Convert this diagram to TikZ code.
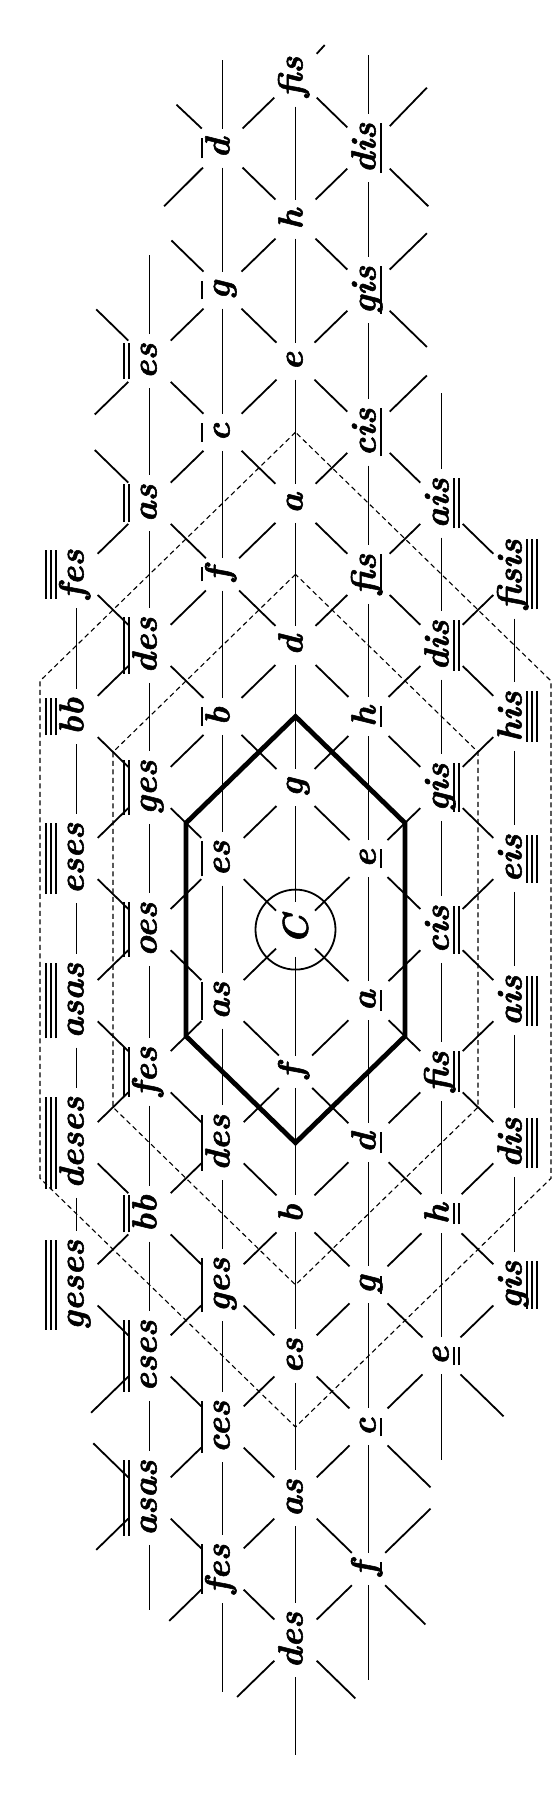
\documentclass[tikz,border=0pt]{standalone}
\usepackage{fontspec}
\newfontfamily\labfont{lmroman10-bolditalic.otf}[FakeBold=1.6]
\newlength\mkw
\newcommand\mkrule[1]{\rlap{\raisebox{#1}[0pt][0pt]{\rule{\mkw}{1.9pt}}}}
\newcommand\labtext[1]{\raisebox{0pt}[14pt][0pt]{#1}}
\newcommand\Ovi[1]{\settowidth\mkw{#1}\labtext{\mkrule{27pt}#1}}
\newcommand\Ovii[1]{\settowidth\mkw{#1}\labtext{\mkrule{27pt}\mkrule{32pt}#1}}
\newcommand\Oviii[1]{\settowidth\mkw{#1}\labtext{\mkrule{27pt}\mkrule{32pt}\mkrule{37pt}#1}}
\newcommand\Uvi[1]{\settowidth\mkw{#1}\labtext{\mkrule{-6.5pt}#1}}
\newcommand\Uvii[1]{\settowidth\mkw{#1}\labtext{\mkrule{-6.5pt}\mkrule{-11.5pt}#1}}
\newcommand\Uviii[1]{\settowidth\mkw{#1}\labtext{\mkrule{-6.5pt}\mkrule{-11.5pt}\mkrule{-16.5pt}#1}}
\newcommand\Nvi[1]{\labtext{#1}}
\tikzset{
  lab/.style={rectangle, rotate=90, inner xsep=9pt, inner ysep=14pt,
    font=\fontsize{35}{37}\labfont},
  cnode/.style={circle, rotate=90, minimum size=54pt, inner sep=0pt,
    font=\fontsize{36}{38}\labfont},
  lat/.style={line width=1.8pt},
  dsh/.style={line width=1.1pt, dash pattern=on 5pt off 3.5pt},
  thick hex/.style={line width=4.8pt, line join=miter}
}
\begin{document}
\begin{tikzpicture}
\fill[white] (0pt,0pt) rectangle (555pt,-1805pt);
\useasboundingbox (0pt,0pt) rectangle (555pt,-1805pt);
\begin{scope}[shift={(76.5pt,-77pt)}, x=73pt, y=-71.05pt]
% ---- labelled nodes ----
\foreach \r/\t in {7/fes,9/bb,11/eses,13/asas,15/deses,17/geses}
  \node[lab] (n0-\r) at (0,\r) {\Oviii{\t}};
\foreach \r/\t in {4/es,6/as,8/des,10/ges,12/oes,14/fes,16/bb,18/eses,20/asas}
  \node[lab] (n1-\r) at (1,\r) {\Ovii{\t}};
\foreach \r/\t in {1/d,3/g,5/c,7/f,9/b,11/es,13/as,15/des,17/ges,19/ces,21/fes}
  \node[lab] (n2-\r) at (2,\r) {\Ovi{\t}};
\foreach \r/\t in {0/fis,2/h,4/e,6/a,8/d,10/g,14/f,16/b,18/es,20/as,22/des}
  \node[lab] (n3-\r) at (3,\r) {\Nvi{\t}};
\node[cnode] (n3-12) at (3,12) {C};
\foreach \r/\t in {1/dis,3/gis,5/cis,7/fis,9/h,11/e,13/a,15/d,17/g,19/c,21/f}
  \node[lab] (n4-\r) at (4,\r) {\Uvi{\t}};
\foreach \r/\t in {6/ais,8/dis,10/gis,12/cis,14/fis,16/h,18/e}
  \node[lab] (n5-\r) at (5,\r) {\Uvii{\t}};
\foreach \r/\t in {7/fisis,9/his,11/eis,13/ais,15/dis,17/gis}
  \node[lab] (n6-\r) at (6,\r) {\Uviii{\t}};
% ---- circle round C ----
\draw[lat] (n3-12.center) circle[radius=40pt];
% ---- vertical (fifth) lines ----
\foreach \c/\lo/\hi in {0/7/15,1/4/18,2/1/19,3/0/20,4/1/19,5/6/16,6/7/15}{
  \pgfmathtruncatemacro\lop{\lo+2}
  \foreach \r in {\lo,\lop,...,\hi}{
    \pgfmathtruncatemacro\rn{\r+2}
    \draw[lat] (n\c-\r) -- (n\c-\rn);
  }
}
% ---- diagonal lines, down-right ----
\foreach \c/\lo/\hi in {0/7/17,1/4/20,2/1/21,3/0/20,4/5/17,5/6/16}{
  \pgfmathtruncatemacro\lop{\lo+2}
  \pgfmathtruncatemacro\cn{\c+1}
  \foreach \r in {\lo,\lop,...,\hi}{
    \pgfmathtruncatemacro\rn{\r+1}
    \draw[lat] (n\c-\r) -- (n\cn-\rn);
  }
}
% ---- diagonal lines, up-right ----
\foreach \c/\lo/\hi in {0/7/17,1/4/20,2/1/21,3/2/22,4/7/19,5/8/18}{
  \pgfmathtruncatemacro\lop{\lo+2}
  \pgfmathtruncatemacro\cn{\c+1}
  \foreach \r in {\lo,\lop,...,\hi}{
    \pgfmathtruncatemacro\rn{\r-1}
    \draw[lat] (n\c-\r) -- (n\cn-\rn);
  }
}
% ---- free line ends ----
\coordinate (s1) at (2,-0.24);
\coordinate (s2) at (1.37,0.39);
\coordinate (s3) at (1.2,1.82);
\coordinate (s4) at (3.4,-0.45);
\coordinate (s5) at (4,-0.31);
\coordinate (s6) at (4.8,0.15);
\coordinate (s7) at (4.82,1.82);
\coordinate (s8) at (1.3,2.3);
\coordinate (s9) at (1,2.5);
\coordinate (s10) at (0.27,3.27);
\coordinate (s11) at (0.25,4.75);
\coordinate (s12) at (4.8,2.2);
\coordinate (s13) at (4.8,3.8);
\coordinate (s14) at (4.8,4.2);
\coordinate (s15) at (5,4.45);
\coordinate (s16) at (0.25,5.25);
\coordinate (s19) at (0.2,18.8);
\coordinate (s20) at (0.23,19.23);
\coordinate (s21) at (1,21.58);
\coordinate (s22) at (0.27,20.73);
\coordinate (s23) at (2,22.73);
\coordinate (s24) at (1.27,21.73);
\coordinate (s25) at (3,23.62);
\coordinate (s26) at (3.82,22.82);
\coordinate (s27) at (2.2,22.8);
\coordinate (s28) at (4,22.56);
\coordinate (s29) at (4.85,20.15);
\coordinate (s30) at (4.78,21.78);
\coordinate (s31) at (4.85,19.85);
\coordinate (s32) at (5,19.47);
\coordinate (s33) at (5.85,18.85);
\draw[lat] (n2-1) -- (s1);
\draw[lat] (n2-1) -- (s2);
\draw[lat] (n2-1) -- (s3);
\draw[lat] (n3-0) -- (s4);
\draw[lat] (n4-1) -- (s5);
\draw[lat] (n4-1) -- (s6);
\draw[lat] (n4-1) -- (s7);
\draw[lat] (n2-3) -- (s8);
\draw[lat] (n1-4) -- (s9);
\draw[lat] (n1-4) -- (s10);
\draw[lat] (n1-4) -- (s11);
\draw[lat] (n4-3) -- (s12);
\draw[lat] (n4-3) -- (s13);
\draw[lat] (n4-5) -- (s14);
\draw[lat] (n5-6) -- (s15);
\draw[lat] (n1-6) -- (s16);
\draw[lat] (n1-18) -- (s19);
\draw[lat] (n1-20) -- (s20);
\draw[lat] (n1-20) -- (s21);
\draw[lat] (n1-20) -- (s22);
\draw[lat] (n2-21) -- (s23);
\draw[lat] (n2-21) -- (s24);
\draw[lat] (n3-22) -- (s25);
\draw[lat] (n3-22) -- (s26);
\draw[lat] (n3-22) -- (s27);
\draw[lat] (n4-21) -- (s28);
\draw[lat] (n4-21) -- (s29);
\draw[lat] (n4-21) -- (s30);
\draw[lat] (n4-19) -- (s31);
\draw[lat] (n5-18) -- (s32);
\draw[lat] (n5-18) -- (s33);
% ---- dashed hexagons ----
\draw[dsh] (3,5) -- (-0.5,8.5) -- (-0.5,15.5) -- (3,19) -- (6.5,15.5) -- (6.5,8.5) -- cycle;
\draw[dsh] (3,7) -- (0.5,9.5) -- (0.5,14.5) -- (3,17) -- (5.5,14.5) -- (5.5,9.5) -- cycle;
% ---- thick hexagon ----
\draw[thick hex] (3,9) -- (1.5,10.5) -- (1.5,13.5) -- (3,15) -- (4.5,13.5) -- (4.5,10.5) -- cycle;
\end{scope}
\end{tikzpicture}
\end{document}
